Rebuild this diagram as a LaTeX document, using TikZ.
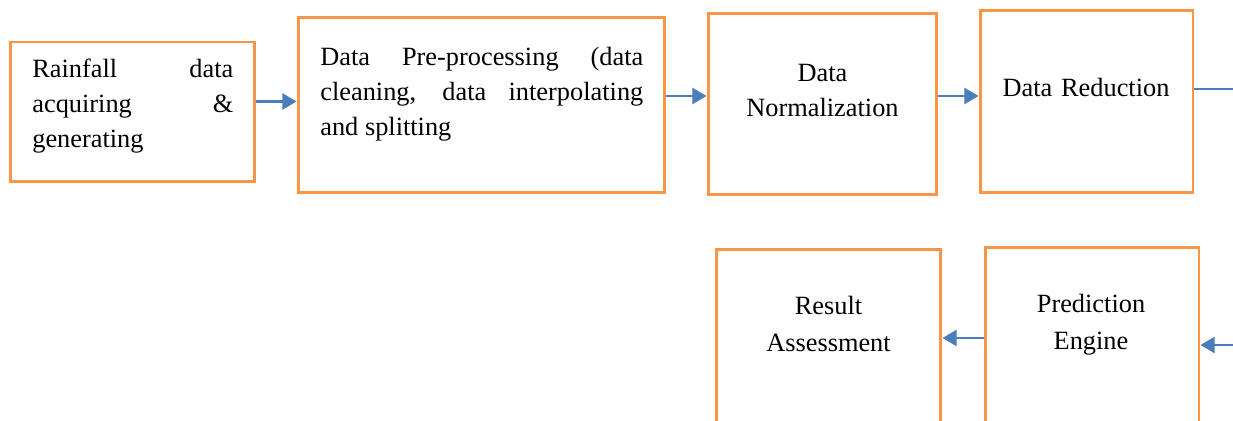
\documentclass[tikz,border=0pt]{standalone}
\usepackage{fontspec}
\setmainfont{Liberation Serif}
\usetikzlibrary{arrows.meta}
\definecolor{boxorange}{HTML}{F79646}
\definecolor{flowblue}{HTML}{4A7EBB}

\begin{document}
\begin{tikzpicture}[x=0.02cm, y=-0.02cm]
    % Define styles
    \tikzset{
        stage/.style={rectangle, draw=boxorange, line width=1.7pt, inner sep=0pt},
        caption/.style={font=\fontsize{15}{19.9}\selectfont, inner sep=0pt},
        flow/.style={-{Triangle[length=8pt, width=9pt]}, draw=flowblue, line width=1.5pt},
    }

    % Page frame
    \useasboundingbox (0,0) rectangle (1233,421);
    \clip (0,0) rectangle (1233,421);

    % Stages
    \node[stage, minimum width=4.90cm, minimum height=2.80cm] (acquire) at (132.5,112) {};
    \node[stage, minimum width=7.34cm, minimum height=3.52cm] (prep) at (481.5,105) {};
    \node[stage, minimum width=4.58cm, minimum height=3.64cm] (norm) at (822.5,104) {};
    \node[stage, minimum width=4.26cm, minimum height=3.66cm] (reduce) at (1086.5,101.5) {};
    \node[stage, minimum width=4.28cm, minimum height=3.52cm] (engine) at (1092,335) {};
    \node[stage, minimum width=4.50cm, minimum height=3.52cm] (assess) at (828.5,337) {};

    % Texts
    \node[caption, text width=4.02cm, align=justify, anchor=base west] (acquire-t) at (32,78)
        {Rainfall data\linebreak acquiring \&\linebreak generating};
    \node[caption, text width=6.46cm, align=justify, anchor=base west] (prep-t) at (320,66)
        {Data Pre-processing (data\linebreak cleaning, data interpolating\linebreak and splitting};
    \node[caption, text width=4cm, align=center, anchor=base] (norm-t) at (822.5,82) {Data\\Normalization};
    \node[caption, text width=4cm, align=center, anchor=base] (reduce-t) at (1086,97) {Data Reduction};
    \node[caption, text width=4cm, align=center, anchor=base] (engine-t) at (1091,313) {Prediction\\[1pt]Engine};
    \node[caption, text width=4cm, align=center, anchor=base] (assess-t) at (828.5,315) {Result\\[1pt]Assessment};

    % Free ends at the page edge
    \coordinate (reduce-out) at (1233,89);
    \coordinate (engine-in) at (1233,345);

    % Arrows
    \draw[flow] (acquire.east |- 0,101.5) -- (prep.west |- 0,101.5);
    \draw[flow] (prep.east |- 0,96) -- (norm.west |- 0,96);
    \draw[flow] (norm.east |- 0,96) -- (reduce.west |- 0,96);
    \draw[draw=flowblue, line width=0.7pt] (reduce.east |- reduce-out) -- (reduce-out);
    \draw[flow] (engine-in) -- (engine.east |- engine-in);
    \draw[flow] (engine.west |- 0,338) -- (assess.east |- 0,338);
\end{tikzpicture}
\end{document}
